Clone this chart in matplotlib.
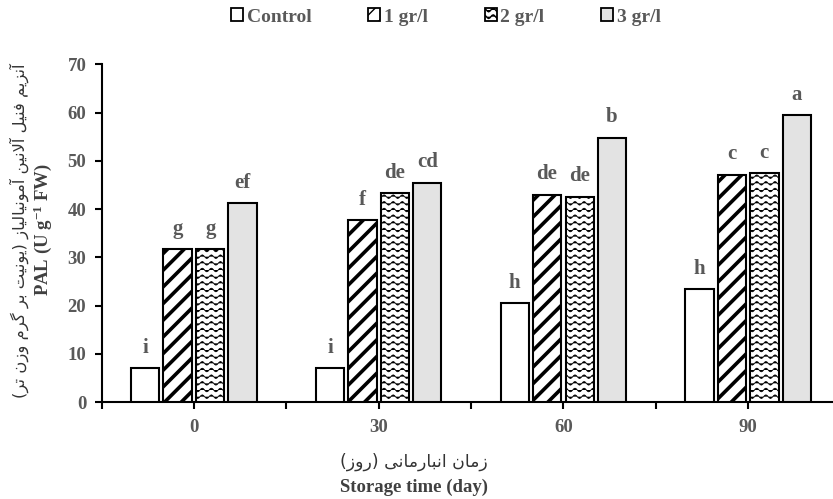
import numpy as np
import matplotlib
matplotlib.use('Agg')
import matplotlib.pyplot as plt
import matplotlib.hatch as mhatch
from matplotlib.path import Path
from matplotlib.patches import Patch

# ---------------- data ----------------
days = [0, 30, 60, 90]
series_names = ['Control', '1 gr/l', '2 gr/l', '3 gr/l']
control = [7.0, 7.1, 20.5, 23.4]
gr1 = [31.7, 37.7, 43.0, 47.1]
gr2 = [31.7, 43.3, 42.6, 47.5]
gr3 = [41.2, 45.5, 54.8, 59.5]
letters_control = ['i', 'i', 'h', 'h']
letters_gr1 = ['g', 'f', 'de', 'c']
letters_gr2 = ['g', 'de', 'de', 'c']
letters_gr3 = ['ef', 'cd', 'b', 'a']
yticks = [0, 10, 20, 30, 40, 50, 60, 70]
xticks = [-15, 0, 15, 30, 45, 60, 75, 90]
xticklabels = ['', '0', '', '30', '', '60', '', '90']

ylabel_fa = 'آنزیم فنیل آلانین آمونیالیاز (یونیت بر گرم وزن تر)'
ylabel_en = r'PAL (U g$^{-1}$ FW)'
xlabel_fa = 'زمان انبارمانی (روز)'
xlabel_en = 'Storage time (day)'

# ---------------- simple Persian shaping ----------------
FORMS = {
    'ا': ('\uFE8D', '\uFE8E', None, None),
    'آ': ('\uFE81', '\uFE82', None, None),
    'ب': ('\uFE8F', '\uFE90', '\uFE91', '\uFE92'),
    'ت': ('\uFE95', '\uFE96', '\uFE97', '\uFE98'),
    'د': ('\uFEA9', '\uFEAA', None, None),
    'ر': ('\uFEAD', '\uFEAE', None, None),
    'ز': ('\uFEAF', '\uFEB0', None, None),
    'ف': ('\uFED1', '\uFED2', '\uFED3', '\uFED4'),
    'گ': ('\uFB92', '\uFB93', '\uFB94', '\uFB95'),
    'ل': ('\uFEDD', '\uFEDE', '\uFEDF', '\uFEE0'),
    'م': ('\uFEE1', '\uFEE2', '\uFEE3', '\uFEE4'),
    'ن': ('\uFEE5', '\uFEE6', '\uFEE7', '\uFEE8'),
    'و': ('\uFEED', '\uFEEE', None, None),
    'ی': ('\uFBFC', '\uFBFD', '\uFBFE', '\uFBFF'),
}
LAMALEF = {'ا': ('\uFEFB', '\uFEFC'), 'آ': ('\uFEF5', '\uFEF6')}


def dual(c):
    return c in FORMS and FORMS[c][2] is not None


def joins(c):
    return c in FORMS


def shape(text):
    out = []
    i = 0
    n = len(text)
    while i < n:
        c = text[i]
        prev = text[i - 1] if i > 0 else ''
        cp = i > 0 and dual(prev) and joins(c)
        if c == 'ل' and i + 1 < n and text[i + 1] in LAMALEF:
            out.append(LAMALEF[text[i + 1]][1 if cp else 0])
            i += 2
            continue
        if c not in FORMS:
            out.append(c)
            i += 1
            continue
        nxt = text[i + 1] if i + 1 < n else ''
        cn = dual(c) and joins(nxt)
        iso, fin, ini, med = FORMS[c]
        if cp and cn:
            out.append(med)
        elif cp:
            out.append(fin)
        elif cn:
            out.append(ini)
        else:
            out.append(iso)
        i += 1
    s = ''.join(out)[::-1]
    s = s.replace('(', '\0').replace(')', '(').replace('\0', ')')
    return s


# ---------------- custom wavy hatch ----------------
class WaveHatch(mhatch.HatchPatternBase):
    def __init__(self, hatch, density):
        self.num_rows = int(hatch.count('~') * density * 5 / 6)
        self.k = 11
        self.npts = self.k * 8 + 1
        self.num_vertices = self.num_rows * self.npts

    def set_vertices_and_codes(self, vertices, codes):
        n = self.num_rows
        xs = np.linspace(0, 1, self.npts)
        amp = 0.27 / n
        idx = 0
        for i in range(n):
            y0 = (i + 0.5) / n
            vertices[idx:idx + self.npts, 0] = xs
            vertices[idx:idx + self.npts, 1] = y0 + amp * np.sin(2 * np.pi * self.k * xs)
            codes[idx] = Path.MOVETO
            codes[idx + 1:idx + self.npts] = Path.LINETO
            idx += self.npts


mhatch._hatch_types.append(WaveHatch)
mhatch._validate_hatch_pattern = lambda h: None

# ---------------- style ----------------
GRAY = '#595959'
plt.rcParams['font.family'] = ['Liberation Serif', 'DejaVu Sans']
plt.rcParams['font.weight'] = 'bold'
plt.rcParams['mathtext.fontset'] = 'custom'
plt.rcParams['mathtext.rm'] = 'Liberation Serif:bold'
plt.rcParams['mathtext.it'] = 'Liberation Serif:bold'
plt.rcParams['mathtext.bf'] = 'Liberation Serif:bold'
plt.rcParams['mathtext.default'] = 'rm'

fig = plt.figure(figsize=(8.33, 4.99), dpi=100)
ax = fig.add_axes([0.122, 0.194, 0.878, 0.677])

series = [control, gr1, gr2, gr3]
letters = [letters_control, letters_gr1, letters_gr2, letters_gr3]
offsets = [-7.9, -2.65, 2.65, 7.9]
width = 4.6
styles = [
    dict(facecolor='white', hatch=None, hlw=1.0),
    dict(facecolor='white', hatch='//', hlw=2.6),
    dict(facecolor='white', hatch='~~~', hlw=0.6),
    dict(facecolor='#e3e3e3', hatch=None, hlw=1.0),
]

handles = []
for vals, labs, off, st, name in zip(series, letters, offsets, styles, series_names):
    xs = [d + off for d in days]
    with plt.rc_context({'hatch.linewidth': st['hlw'], 'hatch.color': 'black'}):
        bars = ax.bar(xs, vals, width=width, facecolor=st['facecolor'],
                      edgecolor='black', linewidth=1.5, hatch=st['hatch'], zorder=3)
        for b in bars:
            if hasattr(b, 'set_hatch_linewidth'):
                b.set_hatch_linewidth(st['hlw'])
        h = Patch(facecolor=st['facecolor'], edgecolor='black', linewidth=1.3,
                  hatch=st['hatch'], label=name)
        if hasattr(h, 'set_hatch_linewidth'):
            h.set_hatch_linewidth(st['hlw'] * 0.6)
    handles.append(h)
    for x, v, t in zip(xs, vals, labs):
        ax.annotate(t, (x, v), xytext=(0, 7.5), textcoords='offset points',
                    ha='center', va='bottom', fontsize=15, color=GRAY,
                    fontweight='bold')

ax.set_xlim(-15, 103.8)
ax.set_ylim(0, 70)
ax.set_yticks(yticks)
ax.set_xticks(xticks)
ax.set_xticklabels(xticklabels)
for s in ['top', 'right']:
    ax.spines[s].set_visible(False)
for s in ['left', 'bottom']:
    ax.spines[s].set_linewidth(1.5)
ax.tick_params(axis='both', direction='out', length=5, width=1.5,
               labelsize=13.5, labelcolor=GRAY)
ax.tick_params(axis='y', pad=6)
ax.tick_params(axis='x', pad=7)

# axis titles
fig.text(414 / 833, 1 - 462 / 499, shape(xlabel_fa), ha='center', va='center',
         fontsize=12.5, color='#333333', family=['DejaVu Sans'], fontweight='normal')
fig.text(414 / 833, 1 - 487 / 499, xlabel_en, ha='center', va='center',
         fontsize=13.5, color='#404040', fontweight='bold')
fig.text(19 / 833, 1 - 231 / 499, shape(ylabel_fa), ha='center', va='center',
         rotation=90, fontsize=11.8, color='#333333', family=['DejaVu Sans'],
         fontweight='normal')
fig.text(43 / 833, 1 - 230 / 499, ylabel_en, ha='center', va='center',
         rotation=90, fontsize=13.5, color='#404040', fontweight='bold')

leg = fig.legend(handles=handles, loc='center', bbox_to_anchor=(446 / 833, 1 - 17 / 499),
                 ncol=4, frameon=False, fontsize=14, handlelength=0.62,
                 handleheight=0.62, handletextpad=0.2, columnspacing=2.9,
                 labelcolor=GRAY)

fig.savefig('out.png', dpi=100)
